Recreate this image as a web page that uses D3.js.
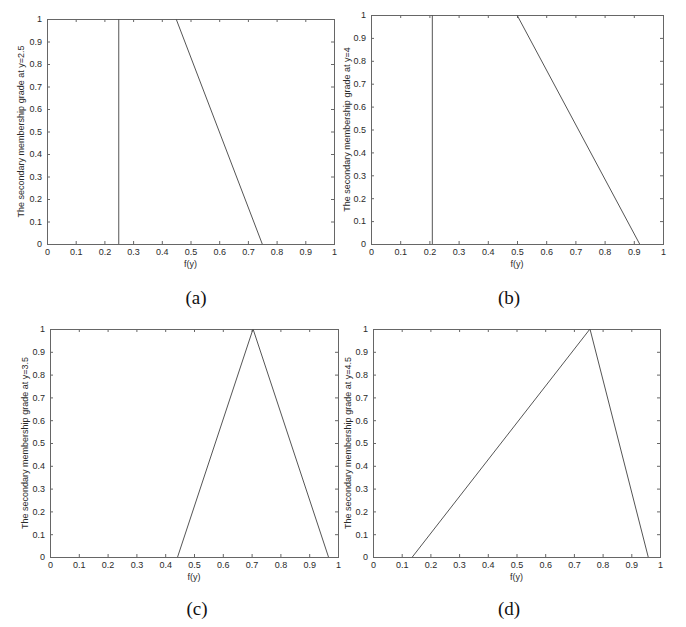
<!DOCTYPE html>
<html>
<head>
<meta charset="utf-8">
<script src="https://cdn.jsdelivr.net/npm/d3@7"></script>
<style>
  body { margin: 0; background: #fff; }
  svg { display: block; }
  .tick text { font-family: Arial, "Liberation Sans", sans-serif; }
</style>
</head>
<body>
<svg width="686" height="627"></svg>
<script>
// values
const tickValues = [0, 0.1, 0.2, 0.3, 0.4, 0.5, 0.6, 0.7, 0.8, 0.9, 1]
const captions = ['(a)', '(b)', '(c)', '(d)']
const yTitles = [
    'The secondary membership grade at y=2.5',
    'The secondary membership grade at y=4',
    'The secondary membership grade at y=3.5',
    'The secondary membership grade at y=4.5'
]
// each panel: list of polylines, [f(y), grade]
const seriesA = [[[0.25, 0], [0.25, 1]], [[0.45, 1], [0.75, 0]]]
const seriesB = [[[0.21, 0], [0.21, 1]], [[0.5, 1], [0.92, 0]]]
const seriesC = [[[0.443, 0], [0.705, 1], [0.967, 0]]]
const seriesD = [[[0.137, 0], [0.756, 1], [0.959, 0]]]
const allSeries = [seriesA, seriesB, seriesC, seriesD]

// panel boxes in page pixels
const boxes = [
    {left: 47, right: 334, top: 19, bottom: 244, labelX: 21, capX: 196, capY: 297},
    {left: 371, right: 663, top: 15, bottom: 244, labelX: 347, capX: 509, capY: 297},
    {left: 50, right: 338, top: 329, bottom: 557, labelX: 25, capX: 197, capY: 608},
    {left: 373, right: 660, top: 329, bottom: 557, labelX: 348, capX: 509, capY: 608}
]

const svg = d3.select('svg')
const axisColor = '#666',
    lineColor = '#555',
    textColor = '#2a2a2a',
    sans = 'Arial, "Liberation Sans", sans-serif'

const drawPanel = (box, i) => {
    const w = box.right - box.left,
        h = box.bottom - box.top
    const x = d3.scaleLinear().domain([0, 1]).range([0, w]),
        y = d3.scaleLinear().domain([0, 1]).range([h, 0])

    const g = svg.append('g')
        .attr('transform', `translate(${box.left},${box.top})`)

    //axes, MATLAB style: inward ticks on all four sides
    const fmt = d => String(+d.toFixed(1))
    const styleAxis = sel => {
        sel.select('.domain').remove()
        sel.selectAll('line').attr('stroke', axisColor)
        sel.selectAll('text').attr('fill', textColor).style('font-size', '9px')
    }
    g.append('g')
        .attr('transform', `translate(0,${h})`)
        .call(d3.axisBottom(x).tickValues(tickValues).tickFormat(fmt).tickSizeInner(-3).tickSizeOuter(0).tickPadding(5))
        .call(styleAxis)
    g.append('g')
        .call(d3.axisLeft(y).tickValues(tickValues).tickFormat(fmt).tickSizeInner(-3).tickSizeOuter(0).tickPadding(5))
        .call(styleAxis)
    g.append('g')
        .call(d3.axisTop(x).tickValues(tickValues).tickFormat('').tickSizeInner(-3).tickSizeOuter(0))
        .call(styleAxis)
    g.append('g')
        .attr('transform', `translate(${w},0)`)
        .call(d3.axisRight(y).tickValues(tickValues).tickFormat('').tickSizeInner(-3).tickSizeOuter(0))
        .call(styleAxis)

    g.append('rect')
        .attr('x', 0.5).attr('y', 0.5)
        .attr('width', w).attr('height', h)
        .attr('fill', 'none')
        .attr('stroke', axisColor)

    //data lines
    const line = d3.line().x(d => x(d[0])).y(d => y(d[1]))
    g.selectAll('.series')
        .data(allSeries[i])
        .enter().append('path')
        .attr('class', 'series')
        .attr('d', line)
        .attr('fill', 'none')
        .attr('stroke', lineColor)
        .attr('stroke-width', 1)

    //labels
    g.append('text')
        .text('f(y)')
        .attr('x', w / 2)
        .attr('y', h + 23)
        .attr('text-anchor', 'middle')
        .style('font-family', sans)
        .style('font-size', '9px')
        .attr('fill', textColor)

    svg.append('text')
        .text(yTitles[i])
        .attr('transform', `translate(${box.labelX},${box.top + h / 2}) rotate(-90)`)
        .attr('text-anchor', 'middle')
        .attr('dy', '0.35em')
        .style('font-family', sans)
        .style('font-size', '9px')
        .attr('fill', textColor)

    svg.append('text')
        .text(captions[i])
        .attr('x', box.capX)
        .attr('y', box.capY)
        .attr('dy', '0.35em')
        .attr('text-anchor', 'middle')
        .style('font-family', '"Times New Roman", "Liberation Serif", serif')
        .style('font-size', '19px')
        .attr('fill', '#111')
}

boxes.forEach(drawPanel)
</script>
</body>
</html>
